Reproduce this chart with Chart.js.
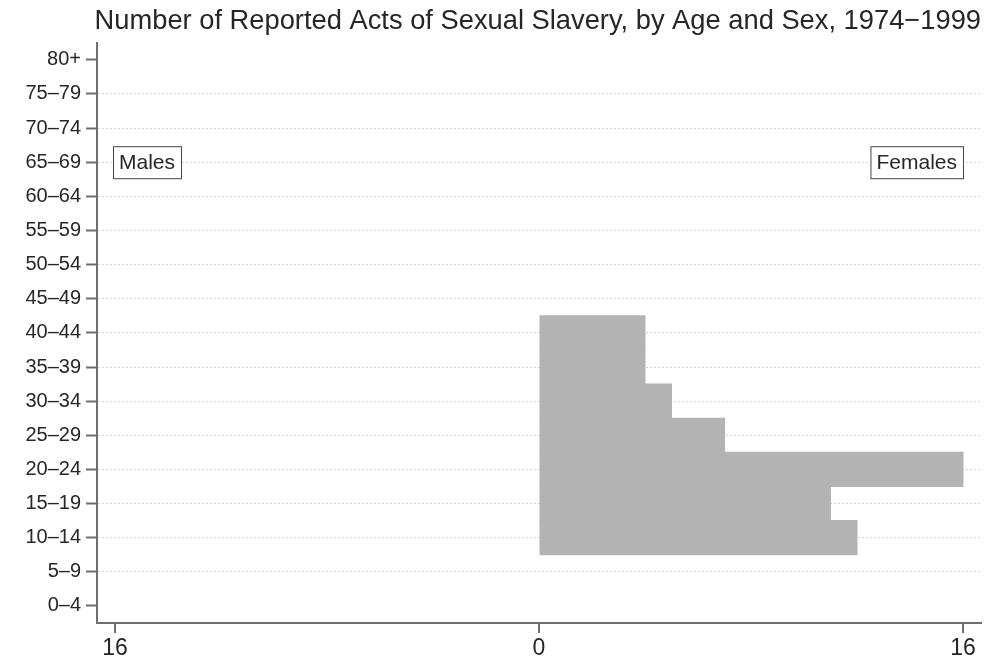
<!DOCTYPE html>
<html>
<head>
<meta charset="utf-8">
<script src="https://cdn.jsdelivr.net/npm/chart.js@4.4.1/dist/chart.umd.min.js"></script>
<style>
  html, body { margin: 0; padding: 0; background: #fff; }
  #wrap { width: 995px; height: 664px; }
</style>
</head>
<body>
<div id="wrap"><canvas id="c" width="995" height="664"></canvas></div>
<script>
// age groups, bottom to top
const ageGroups = ["0–4", "5–9", "10–14", "15–19", "20–24", "25–29", "30–34", "35–39",
  "40–44", "45–49", "50–54", "55–59", "60–64", "65–69", "70–74", "75–79", "80+"];
const males   = [0, 0, 0, 0, 0, 0, 0, 0, 0, 0, 0, 0, 0, 0, 0, 0, 0];
const females = [0, 0, 12, 11, 16, 7, 5, 4, 4, 0, 0, 0, 0, 0, 0, 0, 0];
const xTicks = [-16, 0, 16];

const BAR = "#b3b3b3";
const INK = "#262626";
const AXIS = "#6e6e6e";
const FONT = "'Liberation Sans', Arial, sans-serif";

// Males / Females boxes
const sexLabels = {
  id: "sexLabels",
  afterDraw(chart) {
    const { ctx, scales: { x, y } } = chart;
    const yc = y.getPixelForValue(ageGroups.indexOf("65–69"));
    ctx.save();
    ctx.font = "21px " + FONT;
    ctx.textBaseline = "middle";
    ctx.strokeStyle = "#444";
    ctx.lineWidth = 1;
    const box = (txt, left) => {
      const w = ctx.measureText(txt).width + 12;
      const h = 32;
      ctx.fillStyle = "#fff";
      ctx.fillRect(left, yc - h / 2, w, h);
      ctx.strokeRect(left + 0.5, yc - h / 2 + 0.5, w, h);
      ctx.fillStyle = INK;
      ctx.fillText(txt, left + 6, yc + 1);
    };
    box("Males", x.getPixelForValue(-16) - 2);
    const wf = ctx.measureText("Females").width + 12;
    box("Females", x.getPixelForValue(16) - wf);
    ctx.restore();
  }
};

// no seams between stacked bars, but no hairline for zero values
const inflate = (c) => (c.raw ? 0.5 : 0);

new Chart(document.getElementById("c"), {
  type: "bar",
  data: {
    labels: ageGroups,
    datasets: [
      { label: "Males", data: males.map(v => -v), backgroundColor: BAR, borderWidth: 0, inflateAmount: inflate },
      { label: "Females", data: females, backgroundColor: BAR, borderWidth: 0, inflateAmount: inflate }
    ]
  },
  options: {
    indexAxis: "y",
    responsive: false,
    animation: false,
    barPercentage: 1,
    categoryPercentage: 1,
    layout: { padding: { left: 0, right: 14, top: 0, bottom: 0 } },
    plugins: {
      legend: { display: false },
      tooltip: { enabled: false },
      title: {
        display: true,
        align: "end",
        text: "Number of Reported Acts of Sexual Slavery, by Age and Sex, 1974−1999",
        color: INK,
        font: { family: FONT, size: 27.3, weight: "normal", lineHeight: 1.2 },
        padding: { top: 5, bottom: 5 }
      }
    },
    scales: {
      x: {
        stacked: true,
        min: -16.68,
        max: 16.68,
        afterBuildTicks: (s) => { s.ticks = xTicks.map(v => ({ value: v })); },
        afterFit: (s) => { s.height = 41; },
        ticks: {
          color: INK,
          font: { family: FONT, size: 23 },
          padding: 2,
          callback: (v) => String(Math.abs(v))
        },
        grid: { drawOnChartArea: false, drawTicks: true, tickLength: 10, tickColor: AXIS, lineWidth: 2 },
        border: { color: AXIS, width: 2 }
      },
      y: {
        stacked: true,
        reverse: true,
        afterFit: (s) => { s.width = 97; },
        ticks: {
          color: INK,
          font: { family: FONT, size: 20 },
          padding: 5,
          autoSkip: false
        },
        grid: {
          offset: false,
          tickLength: 11,
          tickColor: AXIS,
          lineWidth: 1,
          tickWidth: 2,
          color: (c) => (c.index === 0 || c.index === ageGroups.length - 1) ? "rgba(0,0,0,0)" : "#d4d4d4"
        },
        border: { color: AXIS, width: 2, dash: [2, 2] }
      }
    }
  },
  plugins: [sexLabels]
});
</script>
</body>
</html>
